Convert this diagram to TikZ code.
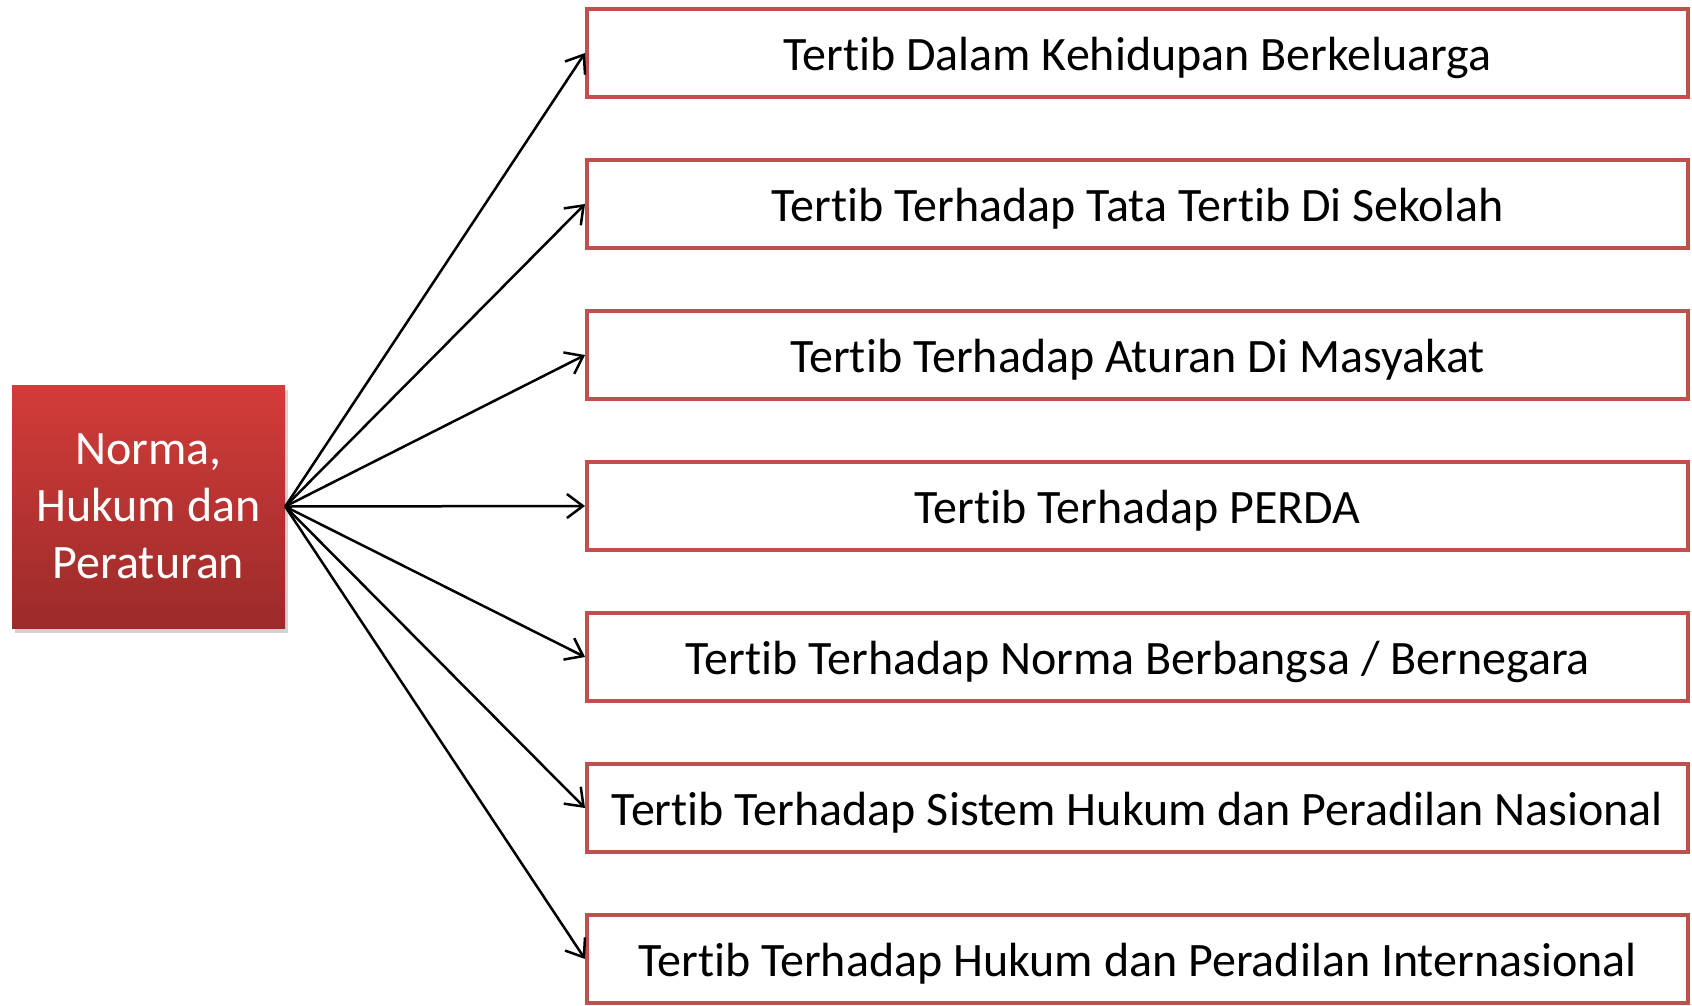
\documentclass[tikz,border=0pt]{standalone}
\usepackage{fontspec}
\setmainfont{Carlito}[RawFeature={-liga;-clig;-calt}]
\usetikzlibrary{arrows.meta,shadows}
\definecolor{boxred}{HTML}{C0504D}

\begin{document}
\begin{tikzpicture}[x=1pt, y=-1pt,
	every node/.style={font=\fontsize{48}{57}\selectfont},
	root/.style={shade, top color={rgb,255:red,210;green,60;blue,57}, bottom color={rgb,255:red,155;green,43;blue,42},
		minimum width=273pt, minimum height=243pt, inner sep=0pt, align=center, text=white,
		drop shadow={shadow xshift=3pt, shadow yshift=-5pt, opacity=0.35}},
	leaf/.style={draw=boxred, line width=4pt, fill=white, minimum width=1101pt, minimum height=88pt, inner sep=0pt,
		text height=44pt, text depth=10pt},
	link/.style={line width=2.5pt, -{Straight Barb[length=16pt, width=24pt, line width=2.5pt]}}]
	\useasboundingbox (0,0) rectangle (1692,1005);
	\node[root] (norma) at (148.5,506.5) {Norma,\\Hukum dan\\Peraturan};
	\node[leaf] (keluarga) at (1137.5,53) {Tertib Dalam Kehidupan Berkeluarga};
	\node[leaf] (sekolah) at (1137.5,204) {Tertib Terhadap Tata Tertib Di Sekolah};
	\node[leaf] (masyakat) at (1137.5,355) {Tertib Terhadap Aturan Di Masyakat};
	\node[leaf] (perda) at (1137.5,506) {Tertib Terhadap PERDA};
	\node[leaf] (bangsa) at (1137.5,657) {Tertib Terhadap Norma Berbangsa / Bernegara};
	\node[leaf] (nasional) at (1137.5,808) {Tertib Terhadap Sistem Hukum dan Peradilan Nasional};
	\node[leaf] (internasional) at (1137.5,959) {Tertib Terhadap Hukum dan Peradilan Internasional};
	\draw[link] (norma.east) -- (keluarga.west);
	\draw[link] (norma.east) -- (sekolah.west);
	\draw[link] (norma.east) -- (masyakat.west);
	\draw[link] (norma.east) -- (perda.west);
	\draw[link] (norma.east) -- (bangsa.west);
	\draw[link] (norma.east) -- (nasional.west);
	\draw[link] (norma.east) -- (internasional.west);
\end{tikzpicture}
\end{document}
